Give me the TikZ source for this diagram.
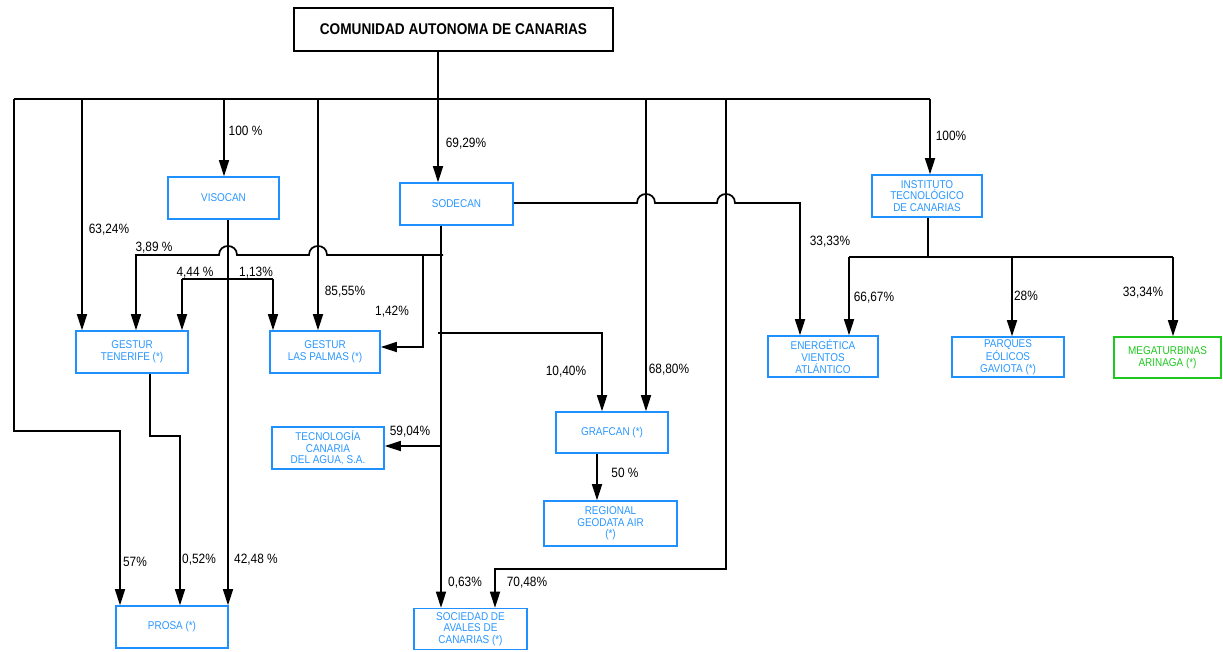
\documentclass[tikz,border=0pt]{standalone}
\usepackage{fontspec}
\setmainfont{Liberation Sans}[FakeStretch=0.88]
\usetikzlibrary{arrows.meta}
\definecolor{boxblue}{RGB}{30,144,255}
\definecolor{txtblue}{RGB}{40,150,255}
\definecolor{boxgreen}{RGB}{30,200,30}
\begin{document}
\begin{tikzpicture}[x=1pt,y=-1pt,
  conn/.style={draw=black, line width=1.7pt},
  arr/.style={conn, -{Triangle[length=16pt,width=10pt]}},
  co/.style={draw=boxblue, line width=1.6pt, text=txtblue, font=\fontsize{11.3}{11.7}\selectfont, align=center, inner sep=0pt},
  cog/.style={co, draw=boxgreen, text=boxgreen},
  pct/.style={font=\fontsize{13.5}{14}\selectfont, inner sep=0pt}
]
\useasboundingbox (0,0) rectangle (1223,651);

% nodes
\node[draw=black, line width=1.6pt, minimum width=319pt, minimum height=43pt, font=\bfseries\fontsize{15.5}{16}\selectfont, inner sep=0pt] (cac) at (453.5,29.5) {COMUNIDAD AUTONOMA DE CANARIAS};
\node[co, minimum width=111pt, minimum height=42pt] (vis) at (223.5,198) {VISOCAN};
\node[co, minimum width=113pt, minimum height=42pt] (sod) at (456.5,204) {SODECAN};
\node[co, minimum width=110pt, minimum height=42pt] (inst) at (927,196) {INSTITUTO\\TECNOLÓGICO\\DE CANARIAS};
\node[co, minimum width=112pt, minimum height=42pt] (gten) at (132,352) {GESTUR\\TENERIFE (*)};
\node[co, minimum width=110pt, minimum height=42pt] (glp) at (325,352) {GESTUR\\LAS PALMAS (*)};
\node[co, minimum width=112pt, minimum height=42pt] (tec) at (328,448) {TECNOLOGÍA\\CANARIA\\DEL AGUA, S.A.};
\node[co, minimum width=112pt, minimum height=41pt] (graf) at (612,432.5) {GRAFCAN (*)};
\node[co, minimum width=133pt, minimum height=45pt] (reg) at (610.5,523.5) {REGIONAL\\GEODATA AIR\\(*)};
\node[co, minimum width=112pt, minimum height=42pt] (prosa) at (172,627) {PROSA (*)};
\node[co, minimum width=113pt, minimum height=41pt] (soc) at (470.5,629) {SOCIEDAD DE\\AVALES DE\\CANARIAS (*)};
\node[co, minimum width=110pt, minimum height=41pt] (ener) at (823,356.5) {ENERGÉTICA\\VIENTOS\\ATLÁNTICO};
\node[co, minimum width=112pt, minimum height=40pt] (parq) at (1008,357) {PARQUES\\EÓLICOS\\GAVIOTA (*)};
\node[cog, minimum width=107pt, minimum height=41pt] (mega) at (1167.5,357.5) {MEGATURBINAS\\ARINAGA (*)};

% bus
\coordinate (busL) at (14,99);
\coordinate (busR) at (930,99);
\draw[conn] (busL) -- (busR);
\draw[arr] (busR) -- (inst.north -| busR);
\draw[arr] (cac.south -| 438,0) -- (sod.north -| 438,0);
\draw[arr] (busL) -- (14,431) -- (120,431) -- (prosa.north -| 120,0);
\draw[arr] (82,99) -- (gten.north -| 82,0);
\draw[arr] (224,99) -- (vis.north -| 224,0);
\draw[arr] (318,99) -- (glp.north -| 318,0);
\draw[arr] (646,99) -- (graf.north -| 646,0);
\draw[arr] (726,99) -- (726,569) -- (495,569) -- (soc.north -| 495,0);

% VISOCAN
\draw[arr] (vis.south -| 228,0) -- (prosa.north -| 228,0);
\draw[conn] (182,279) -- (273,279);
\draw[arr] (182,279) -- (gten.north -| 182,0);
\draw[arr] (273,279) -- (glp.north -| 273,0);

% SODECAN
\draw[arr] (sod.south -| 441,0) -- (soc.north -| 441,0);
\draw[arr] (443,255) -- (327,255) .. controls (327,243) and (309,243) .. (309,255)
  -- (237,255) .. controls (237,243) and (219,243) .. (219,255)
  -- (136,255) -- (gten.north -| 136,0);
\draw[arr] (423,255) -- (423,347) -- (glp.east |- 0,347);
\draw[arr] (438,333) -- (602,333) -- (graf.north -| 602,0);
\draw[arr] (441,446) -- (tec.east |- 0,446);
\draw[arr] (sod.east |- 0,203) -- (637,203) .. controls (637,191) and (655,191) .. (655,203)
  -- (717,203) .. controls (717,191) and (735,191) .. (735,203)
  -- (800,203) -- (ener.north -| 800,0);

% GESTUR TENERIFE -> PROSA
\draw[arr] (gten.south -| 150,0) -- (150,436) -- (180,436) -- (prosa.north -| 180,0);

% GRAFCAN -> REGIONAL
\draw[arr] (graf.south -| 597,0) -- (reg.north -| 597,0);

% INSTITUTO
\draw[conn] (inst.south -| 928,0) -- (928,257);
\draw[conn] (849,257) -- (1173,257);
\draw[arr] (849,257) -- (ener.north -| 849,0);
\draw[arr] (1012,257) -- (parq.north -| 1012,0);
\draw[arr] (1173,257) -- (mega.north -| 1173,0);

% labels
\node[pct] (l1) at (245.5,131) {100 \%};
\node[pct] (l2) at (466,144) {69,29\%};
\node[pct] (l3) at (951,136) {100\%};
\node[pct] (l4) at (109,230) {63,24\%};
\node[pct] (l5) at (154,248) {3,89 \%};
\node[pct] (l6) at (195,273) {4,44 \%};
\node[pct] (l7) at (256,273) {1,13\%};
\node[pct] (l8) at (345,292) {85,55\%};
\node[pct] (l9) at (392,312) {1,42\%};
\node[pct] (l10) at (566,372) {10,40\%};
\node[pct] (l11) at (669,370) {68,80\%};
\node[pct] (l12) at (410,432) {59,04\%};
\node[pct] (l13) at (625,473) {50 \%};
\node[pct] (l14) at (135,562) {57\%};
\node[pct] (l15) at (199,560) {0,52\%};
\node[pct] (l16) at (256,560) {42,48 \%};
\node[pct] (l17) at (465,583) {0,63\%};
\node[pct] (l18) at (527,583) {70,48\%};
\node[pct] (l19) at (830,242) {33,33\%};
\node[pct] (l20) at (874,298) {66,67\%};
\node[pct] (l21) at (1026,296) {28\%};
\node[pct] (l22) at (1143,293) {33,34\%};
\end{tikzpicture}
\end{document}
